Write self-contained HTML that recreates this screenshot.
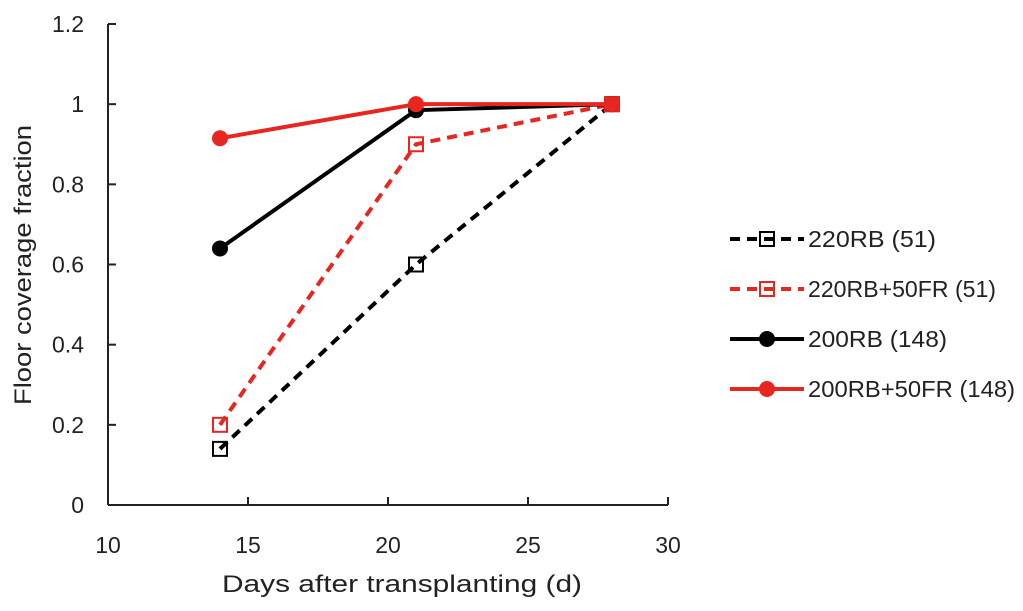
<!DOCTYPE html>
<html><head><meta charset="utf-8"><style>
body{margin:0;background:#fff;}
text{font-family:"Liberation Sans",sans-serif;fill:#222;}
</style></head><body>
<svg width="1023" height="606">
<g id="axes"></g><g id="plot"></g><g id="legend"></g>
</svg>
<script>
const xVals=[14,21,28];
const sNames=["220RB (51)","220RB+50FR (51)","200RB (148)","200RB+50FR (148)"];
const s220RB=[0.14,0.6,1.0];
const s220RBFR=[0.2,0.9,1.0];
const s200RB=[0.64,0.985,1.0];
const s200RBFR=[0.915,1.0,1.0];
const xTicks=[10,15,20,25,30];
const yTicks=[0,0.2,0.4,0.6,0.8,1,1.2];
const NS="http://www.w3.org/2000/svg";
function X(v){return 108+(v-10)*28;}
function Y(v){return 505-v*(481/1.2);}
function mk(t,a,p){const e=document.createElementNS(NS,t);for(const k in a)e.setAttribute(k,a[k]);p.appendChild(e);return e;}
const axes=document.getElementById('axes'),plot=document.getElementById('plot'),leg=document.getElementById('legend');
let l=mk('line',{x1:X(10),y1:Y(0),x2:X(30),y2:Y(0),stroke:'#222','stroke-width':2},axes);

l=mk('line',{x1:X(10),y1:Y(0),x2:X(10),y2:Y(1.2),stroke:'#222','stroke-width':2},axes);

xTicks.forEach(v=>{mk('line',{x1:X(v),y1:Y(0),x2:X(v),y2:Y(0)-8,stroke:'#222','stroke-width':2},axes);
const t=mk('text',{x:X(v),y:553,'text-anchor':'middle','font-size':23},axes);t.textContent=v;
});
yTicks.forEach(v=>{mk('line',{x1:X(10),y1:Y(v),x2:X(10)+8,y2:Y(v),stroke:'#222','stroke-width':2},axes);
const t=mk('text',{x:84,y:Y(v)+8,'text-anchor':'end','font-size':23},axes);t.textContent=v;
});
let t=mk('text',{x:222,y:592,'font-size':24,textLength:360,lengthAdjust:'spacingAndGlyphs'},axes);t.textContent='Days after transplanting (d)';

t=mk('text',{x:0,y:0,'font-size':24,textLength:280,lengthAdjust:'spacingAndGlyphs',transform:'translate(31,405) rotate(-90)'},axes);t.textContent='Floor coverage fraction';

const series=[[s220RB,'#000',true],[s220RBFR,'#e8261f',true],[s200RB,'#000',false],[s200RBFR,'#e8261f',false]];
const legW=[128,188,139,207];
function marker(x,y,c,sq,p){if(sq)return mk('rect',{x:x-7,y:y-7,width:14,height:14,fill:'none',stroke:c,'stroke-width':2},p);
return mk('circle',{cx:x,cy:y,r:8,fill:c},p);}
series.forEach((s,i)=>{const [vals,c,sq]=s;
const pts=vals.map((v,j)=>X(xVals[j])+','+Y(v)).join(' ');
const pl=mk('polyline',{points:pts,fill:'none',stroke:c,'stroke-width':4,'stroke-dasharray':sq?'10,7':'none'},plot);

vals.forEach((v,j)=>{const m=marker(X(xVals[j]),Y(v),c,sq,plot);
});
const ly=239+i*50;
const ll=mk('line',{x1:730,y1:ly,x2:804,y2:ly,stroke:c,'stroke-width':4,'stroke-dasharray':sq?'10,7':'none'},leg);

const lm=marker(767,ly,c,sq,leg);
const lt=mk('text',{x:808,y:ly+8,'font-size':23,textLength:legW[i],lengthAdjust:'spacingAndGlyphs'},leg);lt.textContent=sNames[i];
});
</script>
</body></html>
